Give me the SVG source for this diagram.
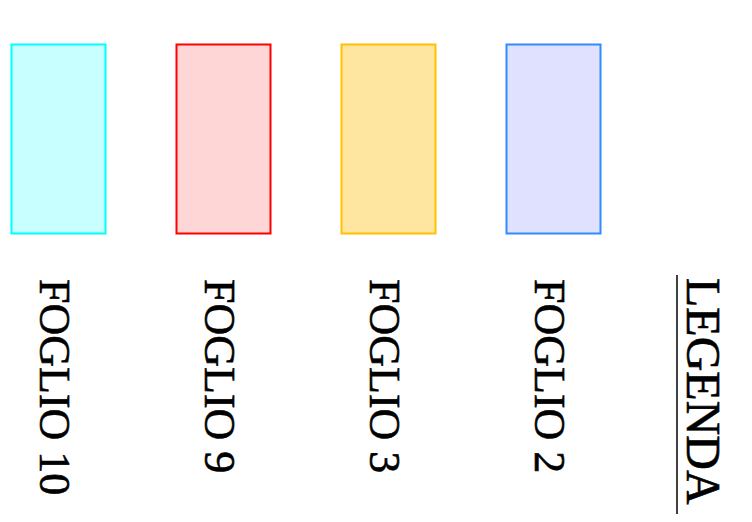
<svg xmlns="http://www.w3.org/2000/svg" width="752" height="522" viewBox="0 0 752 522">
<style>
.sw{stroke-width:2}
.lbl{font-family:"Liberation Serif","Times New Roman",serif;font-size:44px;fill:#000;stroke:#000;stroke-width:0.6}
.leg{font-family:"Liberation Serif","Times New Roman",serif;font-size:48px;fill:#000;stroke:#000;stroke-width:0.6}
</style>
<rect x="0" y="0" width="752" height="522" fill="#ffffff"/>
<g id="foglio10">
<rect class="sw" x="11.5" y="44.5" width="94" height="189" fill="#c8ffff" stroke="#00ffff"/>
<text class="lbl" transform="translate(40,279) rotate(90)">FOGLIO 10</text>
</g>
<g id="foglio9">
<rect class="sw" x="176.5" y="44.5" width="94" height="189" fill="#ffd6d6" stroke="#ff0000"/>
<text class="lbl" transform="translate(205,279) rotate(90)">FOGLIO 9</text>
</g>
<g id="foglio3">
<rect class="sw" x="341.5" y="44.5" width="94" height="189" fill="#ffe6a0" stroke="#ffc000"/>
<text class="lbl" transform="translate(370,279) rotate(90)">FOGLIO 3</text>
</g>
<g id="foglio2">
<rect class="sw" x="506.5" y="44.5" width="94" height="189" fill="#e0e0ff" stroke="#2e8cff"/>
<text class="lbl" transform="translate(535,279) rotate(90)">FOGLIO 2</text>
</g>
<g id="legenda">
<text class="leg" transform="translate(687,278) rotate(90)">LEGENDA</text>
<line x1="677" y1="275" x2="677" y2="514" stroke="#000" stroke-width="1.5"/>
</g>
<g id="connectors"></g>
</svg>
